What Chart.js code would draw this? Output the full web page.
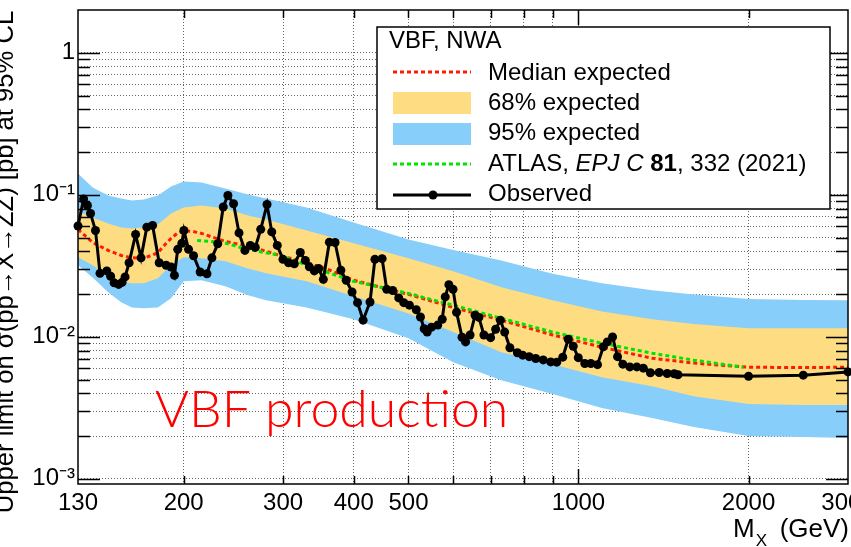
<!DOCTYPE html>
<html><head><meta charset="utf-8">
<script src="https://cdn.jsdelivr.net/npm/chart.js@4.4.1/dist/chart.umd.min.js"></script>
<style>html,body{margin:0;padding:0;background:#fff;overflow:hidden}canvas{display:block}</style>
</head><body>
<canvas id="c" width="851" height="547"></canvas>
<script>
const FONT = '"Liberation Sans", Arial, Helvetica, sans-serif';

// Observed limit
const obsMass = [130,133,135.1,136.8,139.6,142.2,146.2,148.5,150.6,153.4,
155.6,157.5,160.1,164.4,168.1,172.1,176.2,181,186.2,190,
192.6,195.2,198.5,200.2,204,208.2,213.9,219.9,224.4,229.8,
235,239.5,245.1,250.6,256.7,262.4,267.8,273.8,280.9,286.4,
292.9,299.8,306.7,314,321.7,328.4,333.8,340.7,346.7,353.4,
362.2,370.7,379.6,387.9,397.3,406.3,415.6,427.5,436.1,449.1,
457.6,468.8,480.6,490.5,502,516.2,525.1,533.1,539.7,549.3,
563.4,573.8,580.9,589.5,599.7,608.3,622.1,631.1,642.8,656.1,
666.3,680.1,698.9,713.4,727.2,740.1,756,779.5,796.5,817.9,
839.9,866.1,893,915.2,937.9,959.1,978.9,999.1,1026,1051.5,
1080.6,1106.5,1124.7,1148.9,1172.5,1198.2,1232.9,1268.6,1302.7,1340.4,
1389.4,1435.6,1477.2,1500,2000,2500,3000];
const obsLimit = [0.0603,0.0934,0.0841,0.0739,0.0561,0.0280,0.0291,0.0267,0.0240,0.0234,
0.0242,0.0264,0.0332,0.0526,0.0360,0.0592,0.0609,0.0332,0.0319,0.0310,
0.0271,0.0413,0.0455,0.0561,0.0413,0.0372,0.0286,0.0278,0.0360,0.0452,
0.0821,0.0989,0.0865,0.0539,0.0406,0.0440,0.0426,0.0571,0.0855,0.0548,
0.0440,0.0351,0.0332,0.0327,0.0393,0.0345,0.0311,0.0291,0.0303,0.0254,
0.0464,0.0461,0.0294,0.0250,0.0207,0.0174,0.0131,0.0176,0.0351,0.0355,
0.0216,0.0212,0.0188,0.0174,0.0167,0.0155,0.0138,0.0114,0.0108,0.0117,
0.0121,0.0133,0.0191,0.0233,0.0216,0.0149,0.00994,0.00921,0.0103,0.0142,
0.0137,0.0103,0.00986,0.0113,0.0131,0.0108,0.00838,0.00773,0.00743,0.00725,
0.00704,0.00688,0.00666,0.00663,0.00719,0.00962,0.00859,0.00713,0.00649,0.00649,
0.00637,0.00852,0.00921,0.00998,0.00725,0.00642,0.00614,0.00614,0.00602,0.00559,
0.00561,0.00552,0.00550,0.00541,0.00528,0.00537,0.00566];

// Median expected
const medMass = [130,138,147,155,162,170,180,185.4,190,194.8,
200,207.9,215,225.6,237,260,280,300,330,363.6,
400,500,600,730,900,1100,1350,1600,2000,2500,3000];
const medLimit = [0.0571,0.0462,0.0406,0.0374,0.0360,0.0357,0.0390,0.0447,0.0493,0.0535,
0.0557,0.0552,0.0535,0.0501,0.0470,0.0433,0.0400,0.0368,0.0334,0.0294,
0.0250,0.0199,0.0161,0.0131,0.0103,0.00845,0.00707,0.00653,0.00611,0.00607,0.00611];

// ATLAS EPJC 81 (2021) 332
const atlasMass = [211.3,235,251.9,276.6,296.6,339.3,399.5,500,600,730,900,1100,1350,1600,1960];
const atlasLimit = [0.0477,0.0462,0.0426,0.0393,0.0374,0.0308,0.0246,0.0202,0.0167,0.0135,0.0108,0.00902,0.00767,0.00685,0.00611];

// Expected bands
const bandMass = [130,138,147,155,162,170,180,190,200,215,237,260,280,330,400,500,600,730,900,1100,1350,1600,2000,2500,3000];
const band95Up = [0.141,0.1125,0.0989,0.0942,0.0912,0.0927,0.0989,0.1144,0.1240,0.1220,0.1107,0.1005,0.0942,0.0814,0.0639,0.0485,0.0409,0.0345,0.0278,0.0238,0.0213,0.0199,0.0185,0.0182,0.0181];
const band68Up = [0.0763,0.0692,0.0629,0.0589,0.0580,0.0589,0.0618,0.0739,0.0814,0.0841,0.0801,0.0715,0.0671,0.0561,0.0455,0.0357,0.0289,0.0223,0.0181,0.0151,0.0133,0.0123,0.0115,0.0115,0.0115];
const band68Down = [0.0363,0.0319,0.0271,0.0242,0.0238,0.0238,0.0258,0.0319,0.0363,0.0357,0.0340,0.0303,0.0280,0.0246,0.0193,0.0146,0.0108,0.00779,0.00642,0.00520,0.00449,0.00382,0.00336,0.00331,0.00331];
const band95Down = [0.0319,0.0262,0.0206,0.0175,0.0161,0.0159,0.0161,0.0187,0.0246,0.0250,0.0227,0.0196,0.0181,0.0161,0.0133,0.00978,0.00663,0.00495,0.00395,0.00315,0.00268,0.00232,0.00200,0.00197,0.00194];

// Ticks
const xTickVals = [130,200,300,400,500,600,700,800,900,1000,2000,3000];
const xTickLabels = ['130','200','300','400','500','','','','','1000','2000','3000'];
const yTickVals = [0.001,0.002,0.003,0.004,0.005,0.006,0.007,0.008,0.009,
0.01,0.02,0.03,0.04,0.05,0.06,0.07,0.08,0.09,
0.1,0.2,0.3,0.4,0.5,0.6,0.7,0.8,0.9,1,2];
const yTickLabels = ['10⁻³','','','','','','','','',
'10⁻²','','','','','','','','',
'10⁻¹','','','','','','','','','1',''];
const yMajor = [0.001,0.01,0.1,1];
const xMajor = [1000];

const legendHeader = 'VBF, NWA';
const legendLabels = ['Median expected','68% expected','95% expected','ATLAS, |EPJ C| 81|, 332 (2021)','Observed'];
const yTitle = 'Upper limit on σ(pp→X→ZZ) [pb] at 95% CL';
const annotation = 'VBF production';

const YELLOW = 'rgb(254,221,130)';
const BLUE = 'rgb(135,206,250)';
const RED = '#ff1a00';
const GREEN = '#00e400';
const gridColor = 'rgba(0,0,0,0.6)';

const pts = (xs, ys) => xs.map((m, i) => ({x: m, y: ys[i]}));

const framePlugin = {
  id: 'frame',
  afterDatasetsDraw(chart) {
    const {ctx, chartArea: a, scales: {x, y}} = chart;
    ctx.save();
    ctx.strokeStyle = '#000';
    ctx.lineWidth = 1.5;
    ctx.beginPath();
    yTickVals.forEach(v => {
      const py = Math.round(y.getPixelForValue(v)) + 0.5;
      if (py < a.top + 1 || py > a.bottom - 1) return;
      const len = yMajor.includes(v) ? 22 : 12;
      ctx.moveTo(a.left, py); ctx.lineTo(a.left + len, py);
      ctx.moveTo(a.right, py); ctx.lineTo(a.right - len, py);
    });
    xTickVals.forEach(v => {
      const px = Math.round(x.getPixelForValue(v)) + 0.5;
      if (px < a.left + 1 || px > a.right - 1) return;
      const len = xMajor.includes(v) ? 15 : 8;
      ctx.moveTo(px, a.bottom); ctx.lineTo(px, a.bottom - len);
      ctx.moveTo(px, a.top); ctx.lineTo(px, a.top + len);
    });
    ctx.stroke();
    ctx.lineWidth = 1.5;
    ctx.strokeRect(a.left, a.top, a.right - a.left, a.bottom - a.top);
    ctx.restore();
  },
  afterDraw(chart) {
    const {ctx} = chart;
    ctx.save();
    // annotation
    ctx.fillStyle = '#ff0000';
    ctx.textBaseline = 'alphabetic';
    ctx.font = '300 50px Lato, "Noto Sans", sans-serif';
    const w = ctx.measureText(annotation).width;
    const fs = 50 * 353 / w;
    ctx.font = '300 ' + fs.toFixed(1) + 'px Lato, "Noto Sans", sans-serif';
    ctx.fillText(annotation, 155, 427);

    // legend
    const L = 377, T = 27, R = 830, B = 209;
    ctx.fillStyle = '#fff';
    ctx.fillRect(L, T, R - L, B - T);
    ctx.strokeStyle = '#000';
    ctx.lineWidth = 1.5;
    ctx.strokeRect(L, T, R - L, B - T);
    ctx.fillStyle = '#000';
    ctx.font = '24px ' + FONT;
    ctx.fillText(legendHeader, 389, 48);
    const base = [80, 110, 140, 171, 201];
    const sy = [72, 103, 134, 164, 195];
    const sx0 = 393, sx1 = 471, tx = 488;
    ctx.lineWidth = 3;
    ctx.setLineDash([4, 3]);
    ctx.strokeStyle = RED;
    ctx.beginPath(); ctx.moveTo(sx0, sy[0]); ctx.lineTo(sx1, sy[0]); ctx.stroke();
    ctx.strokeStyle = GREEN;
    ctx.beginPath(); ctx.moveTo(sx0, sy[3]); ctx.lineTo(sx1, sy[3]); ctx.stroke();
    ctx.setLineDash([]);
    ctx.fillStyle = YELLOW; ctx.fillRect(sx0, 92, sx1 - sx0, 22);
    ctx.fillStyle = BLUE; ctx.fillRect(sx0, 123, sx1 - sx0, 22);
    ctx.strokeStyle = '#000';
    ctx.beginPath(); ctx.moveTo(sx0, sy[4]); ctx.lineTo(sx1, sy[4]); ctx.stroke();
    ctx.fillStyle = '#000';
    ctx.beginPath(); ctx.arc(433, sy[4], 4.5, 0, Math.PI * 2); ctx.fill();
    legendLabels.forEach((lab, i) => {
      const parts = lab.split('|');
      let cx = tx;
      parts.forEach((p, j) => {
        let style = '';
        if (parts.length > 1 && j === 1) style = 'italic ';
        if (parts.length > 1 && j === 2) style = 'bold ';
        ctx.font = style + '24px ' + FONT;
        ctx.fillText(p, cx, base[i]);
        cx += ctx.measureText(p).width;
      });
    });

    // x title
    ctx.font = '26px ' + FONT;
    ctx.textAlign = 'left';
    ctx.fillText('M', 733, 537);
    const mw = ctx.measureText('M').width;
    ctx.font = '17px ' + FONT;
    ctx.fillText('X', 733 + mw + 1, 546);
    ctx.font = '26px ' + FONT;
    ctx.textAlign = 'right';
    ctx.fillText('(GeV)', 849, 537);

    // y title (partly cut at the left edge, as in the original)
    ctx.translate(13, 262);
    ctx.rotate(-Math.PI / 2);
    ctx.textAlign = 'center';
    ctx.font = '24px ' + FONT;
    const tw = ctx.measureText(yTitle).width;
    ctx.font = (24 * 503 / tw).toFixed(1) + 'px ' + FONT;
    ctx.fillText(yTitle, 0, 0);
    ctx.restore();
  }
};

new Chart(document.getElementById('c'), {
  type: 'line',
  data: {
    datasets: [
      {label: 'Observed', data: pts(obsMass, obsLimit), borderColor: '#000', backgroundColor: '#000',
       borderWidth: 3, pointRadius: 4.5, pointBorderWidth: 0, pointBackgroundColor: '#000', fill: false, clip: false, order: 0},
      {label: 'ATLAS', data: pts(atlasMass, atlasLimit), borderColor: GREEN, borderWidth: 3, borderDash: [4, 3],
       pointRadius: 0, fill: false, order: 1},
      {label: 'Median expected', data: pts(medMass, medLimit), borderColor: RED, borderWidth: 3, borderDash: [4, 3],
       pointRadius: 0, fill: false, order: 2},
      {label: '68% up', data: pts(bandMass, band68Up), borderColor: 'rgba(0,0,0,0)', borderWidth: 0,
       pointRadius: 0, fill: '+1', backgroundColor: YELLOW, order: 3},
      {label: '68% down', data: pts(bandMass, band68Down), borderColor: 'rgba(0,0,0,0)', borderWidth: 0,
       pointRadius: 0, fill: false, order: 4},
      {label: '95% up', data: pts(bandMass, band95Up), borderColor: 'rgba(0,0,0,0)', borderWidth: 0,
       pointRadius: 0, fill: '+1', backgroundColor: BLUE, order: 5},
      {label: '95% down', data: pts(bandMass, band95Down), borderColor: 'rgba(0,0,0,0)', borderWidth: 0,
       pointRadius: 0, fill: false, order: 6}
    ]
  },
  options: {
    responsive: false,
    animation: false,
    events: [],
    devicePixelRatio: 1,
    layout: {padding: {top: 10, right: 3, left: 0, bottom: 0}, autoPadding: false},
    plugins: {legend: {display: false}, tooltip: {enabled: false}},
    scales: {
      x: {
        type: 'logarithmic', min: 130, max: 3000,
        afterBuildTicks: ax => { ax.ticks = xTickVals.map(v => ({value: v})); },
        ticks: {autoSkip: false, maxRotation: 0, minRotation: 0, padding: 5, color: '#000',
                font: {family: FONT, size: 24}, callback: (v, i) => xTickLabels[i]},
        grid: {drawTicks: false, lineWidth: 1,
               color: c => (c.tick && (c.tick.value === 130 || c.tick.value === 3000)) ? 'rgba(0,0,0,0)' : gridColor},
        border: {display: false, dash: [1, 2]},
        afterFit: s => { s.height = 63; s.paddingLeft = 0; s.paddingRight = 0; s.paddingTop = 0; s.paddingBottom = 0; }
      },
      y: {
        type: 'logarithmic', min: 0.00092, max: 2,
        afterBuildTicks: ax => { ax.ticks = yTickVals.map(v => ({value: v})); },
        ticks: {autoSkip: false, padding: 3, color: '#000', font: {family: FONT, size: 24},
                callback: (v, i) => yTickLabels[i]},
        grid: {drawTicks: false, lineWidth: 1,
               color: c => (c.tick && c.tick.value === 2) ? 'rgba(0,0,0,0)' : gridColor},
        border: {display: false, dash: [1, 2]},
        afterFit: s => { s.width = 78; s.paddingLeft = 0; s.paddingRight = 0; s.paddingTop = 0; s.paddingBottom = 0; }
      }
    }
  },
  plugins: [framePlugin]
});
</script>
</body></html>
